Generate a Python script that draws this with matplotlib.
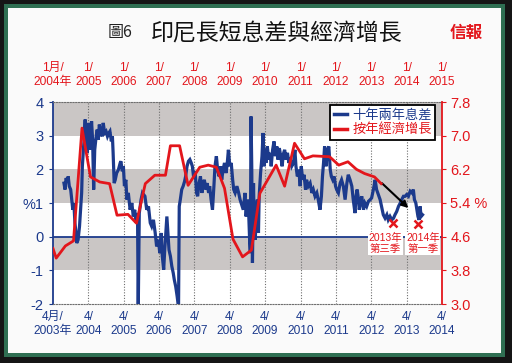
import matplotlib
matplotlib.use('Agg')
import matplotlib.pyplot as plt
from matplotlib import font_manager as fm
from matplotlib.patches import Rectangle
from matplotlib.lines import Line2D
import numpy as np

names = {f.name for f in fm.fontManager.ttflist}
NARROW = 'Liberation Sans Narrow' if 'Liberation Sans Narrow' in names else 'Liberation Sans'
TICKFS = 10 if NARROW == 'Liberation Sans Narrow' else 8.6
CJK = 'Noto Sans CJK TC'
NAVY = '#1c3a8c'
RED = '#e3161c'

# ---------------- data ----------------
# 10y-2y spread (%), dates on the bottom axis (decimal years)
spread_date = [
    2003.56, 2003.59, 2003.62, 2003.66, 2003.68, 2003.71, 2003.75, 2003.78, 2003.81, 2003.84,
    2003.87, 2003.90, 2003.92, 2003.96, 2004.00, 2004.03, 2004.06, 2004.08, 2004.11, 2004.14,
    2004.16, 2004.18, 2004.22, 2004.25, 2004.28, 2004.31, 2004.34, 2004.37, 2004.40, 2004.43,
    2004.47, 2004.50, 2004.53, 2004.56, 2004.60, 2004.64, 2004.67, 2004.71, 2004.75, 2004.79,
    2004.83, 2004.86, 2004.90, 2004.93, 2004.95, 2004.98, 2005.01, 2005.05, 2005.10, 2005.15,
    2005.17, 2005.21, 2005.24, 2005.27, 2005.31, 2005.34, 2005.38, 2005.43, 2005.48, 2005.52,
    2005.56, 2005.60, 2005.64, 2005.66, 2005.69, 2005.74, 2005.78,
    2005.85, 2005.90, 2005.95, 2006.00, 2006.04, 2006.09, 2006.14, 2006.18, 2006.23, 2006.27,
    2006.31, 2006.34, 2006.38, 2006.41, 2006.44, 2006.47, 2006.50, 2006.53, 2006.57, 2006.61,
    2006.65, 2006.68, 2006.72, 2006.76, 2006.80, 2006.82, 2006.85, 2006.89, 2006.93, 2006.97,
    2007.00, 2007.04, 2007.08, 2007.12, 2007.16, 2007.19, 2007.23, 2007.27, 2007.31, 2007.34,
    2007.38, 2007.42, 2007.46, 2007.50, 2007.53, 2007.57, 2007.61, 2007.65, 2007.68, 2007.72,
    2007.76, 2007.80, 2007.83, 2007.87, 2007.91, 2007.95, 2007.99, 2008.02, 2008.06, 2008.10,
    2008.14, 2008.17, 2008.21, 2008.25, 2008.29, 2008.33, 2008.36, 2008.40, 2008.45, 2008.50,
    2008.54,
    2008.63, 2008.68, 2008.71, 2008.75, 2008.78, 2008.81, 2008.83, 2008.85, 2008.87, 2008.89,
    2008.92, 2008.94, 2008.97, 2009.00, 2009.03, 2009.06, 2009.08, 2009.12, 2009.16, 2009.19,
    2009.22, 2009.25, 2009.27, 2009.31, 2009.35, 2009.39, 2009.42, 2009.46, 2009.50, 2009.54,
    2009.58, 2009.61, 2009.65, 2009.69, 2009.73, 2009.76, 2009.80, 2009.84, 2009.88, 2009.92,
    2009.95, 2010.00, 2010.05, 2010.09, 2010.12, 2010.16, 2010.20, 2010.24, 2010.27, 2010.31,
    2010.35, 2010.39, 2010.42, 2010.47, 2010.52, 2010.57, 2010.61, 2010.66, 2010.71, 2010.75,
    2010.80, 2010.84, 2010.87, 2010.90, 2010.93, 2010.97, 2011.01, 2011.05, 2011.09, 2011.12,
    2011.16, 2011.20, 2011.24,
    2011.27, 2011.32, 2011.37, 2011.41, 2011.46, 2011.51, 2011.56, 2011.60, 2011.65, 2011.70,
    2011.74, 2011.79, 2011.82, 2011.85, 2011.89, 2011.91, 2011.94, 2011.98, 2012.03, 2012.07,
    2012.12, 2012.17, 2012.22, 2012.26, 2012.31, 2012.36, 2012.40, 2012.45, 2012.50, 2012.55,
    2012.59, 2012.64, 2012.69, 2012.73, 2012.78, 2012.83, 2012.88, 2012.92, 2012.97, 2013.02,
    2013.07, 2013.11, 2013.16, 2013.21, 2013.25, 2013.30, 2013.35, 2013.40, 2013.44, 2013.47,
    2013.51, 2013.54, 2013.57, 2013.60, 2013.63, 2013.66, 2013.70,
]
spread_val = [
    1.59, 1.40, 1.74, 1.64, 1.79, 1.50, 1.40, 1.10, 0.80, 1.00,
    0.41, 0.11, -0.19, -0.09, 0.31, 0.80, 1.30, 2.09, 2.58, 3.08,
    3.48, 2.78, 2.49, 3.38, 2.88, 2.58, 3.43, 2.88, 1.40, 2.58,
    2.98, 3.18, 2.88, 3.33, 3.08, 2.98, 3.38, 3.08, 3.13, 2.98,
    3.08, 3.13, 2.83, 2.98, 2.49, 1.59, 1.69, 1.89, 1.99, 2.19,
    2.24, 1.94, 2.09, 1.50, 1.69, 1.10, 1.30, 0.80, 1.00, 0.60,
    0.80, 0.41, 0.70, -2.20, 0.70, 1.10, 1.30,
    1.20, 0.80, 0.90, 0.41, 0.31, 0.50, 0.11, -0.29, -0.09, -0.49,
    0.11, -0.58, -0.98, -0.39, 0.11, 0.60, 0.11, -0.39, -0.58, -0.88,
    -1.08, -1.28, -1.48, -1.77, -2.10, 0.90, 1.10, 1.40, 1.50, 1.64,
    1.79, 2.09, 2.24, 2.29, 2.19, 2.09, 1.74, 1.94, 1.30, 1.20,
    1.59, 1.79, 1.30, 1.59, 1.69, 1.40, 1.59, 1.30, 1.50, 1.10,
    0.80, 1.50, 2.09, 2.39, 1.94, 1.79, 2.09, 1.69, 1.99, 2.19,
    1.89, 2.09, 2.58, 2.09, 2.19, 1.69, 1.40, 1.30, 1.50, 1.30,
    1.10,
    0.80, 1.30, 0.60, 1.10, 0.80, -0.09, -0.49, 3.57, 2.09, -0.78,
    1.59, 0.31, -0.09, 0.80, 1.10, 0.11, 1.20, 1.89, 2.39, 3.08,
    2.09, 2.58, 2.19, 2.68, 2.29, 2.49, 2.09, 2.58, 2.83, 2.39,
    2.68, 2.29, 2.63, 2.39, 2.09, 2.44, 2.58, 2.29, 2.49, 2.19,
    2.34, 2.09, 2.19, 2.58, 2.09, 1.79, 1.99, 1.50, 2.09, 1.69,
    1.84, 1.40, 1.69, 1.50, 1.59, 1.30, 1.40, 1.20, 1.30, 1.10,
    0.80, 1.20, 1.79, 2.19, 2.68, 2.09, 2.58, 2.68, 1.99, 1.79,
    1.69, 1.79, 1.50,
    1.40, 1.30, 1.59, 1.69, 1.50, 1.10, 1.59, 1.84, 1.69, 1.50,
    1.10, 0.70, 1.20, 1.40, 1.10, 0.80, 1.00, 1.20, 0.80, 1.00,
    0.90, 1.05, 1.10, 1.15, 1.40, 1.69, 1.40, 1.25, 1.10, 0.85,
    0.65, 0.55, 0.65, 0.50, 0.60, 0.50, 0.55, 0.65, 0.75, 0.90,
    1.00, 1.10, 1.20, 1.20, 1.25, 1.20, 1.35, 1.30, 1.40, 1.10,
    1.00, 0.80, 0.60, 0.50, 0.90, 0.60, 0.65,
]

# GDP growth y/y (%), dates on the top axis (decimal years)
gdp_date = [2004.00, 2004.09, 2004.35, 2004.58, 2004.82, 2005.06, 2005.32, 2005.60, 2005.81, 2006.12,
            2006.36, 2006.61, 2006.88, 2007.18, 2007.32, 2007.58, 2007.82, 2008.15, 2008.39, 2008.62,
            2008.85, 2009.09, 2009.36, 2009.61, 2009.85, 2010.31, 2010.55, 2010.83, 2011.11, 2011.35,
            2011.82, 2012.08, 2012.34, 2012.58, 2012.81, 2013.09, 2013.28]
gdp_val = [4.32, 4.09, 4.38, 4.50, 7.18, 6.02, 5.90, 5.86, 5.11, 5.13,
           4.92, 5.86, 6.06, 6.06, 6.76, 6.76, 5.82, 6.25, 6.30, 6.25,
           5.75, 4.54, 4.12, 4.28, 5.63, 6.30, 5.80, 6.82, 6.45, 6.52,
           6.50, 6.30, 6.38, 6.20, 6.10, 6.02, 5.86]

LEAD = 0.75  # top axis = bottom axis + 9 months

mark_date = [2012.87, 2013.56]
mark_val = [0.42, 0.39]
label_date = [2012.64, 2013.71]
label_text = ['2013年\n第三季', '2014年\n第一季']
arrow_start = (2012.55, 1.59)
arrow_end = (2013.30, 0.85)

bottom_ticks = [2003.25 + i for i in range(12)]
bottom_labels = ['4月/\n2003年'] + [f'4/\n{y}' for y in range(2004, 2015)]
top_ticks = list(range(2004, 2016))
top_labels = ['1月/\n2004年'] + [f'1/\n{y}' for y in range(2005, 2016)]
left_ticks = [-2, -1, 0, 1, 2, 3, 4]
left_labels = ['-2', '-1', '0', '%1', '2', '3', '4']
right_ticks = [3.0, 3.8, 4.6, 5.4, 6.2, 7.0, 7.8]
right_labels = ['3.0', '3.8', '4.6', '5.4 %', '6.2', '7.0', '7.8']
legend_labels = ['十年兩年息差', '按年經濟增長']

# ---------------- figure ----------------
W, H = 512, 363
fig = plt.figure(figsize=(W / 100, H / 100), dpi=100)
fig.patch.set_facecolor('#151515')


def frect(x0, y0, x1, y1, color):
    fig.add_artist(Rectangle((x0 / W, 1 - y1 / H), (x1 - x0) / W, (y1 - y0) / H,
                             transform=fig.transFigure, color=color, zorder=-10, lw=0))


frect(4, 4, 505, 357, '#2f6f52')
frect(8, 8, 501, 353, '#fafafa')

ax = fig.add_axes([53 / W, 1 - 304 / H, 389 / W, 202 / H])
ax.set_facecolor('white')
ax.set_xlim(bottom_ticks[0], bottom_ticks[-1])
ax.set_ylim(-2, 4)

for lo in (3, 1, -1):
    ax.axhspan(lo, lo + 1, color='#cac6c5', lw=0, zorder=0)
for t in bottom_ticks[1:-1]:
    ax.axvline(t, color='#6e6e6e', ls=(0, (1, 1.5)), lw=0.8, zorder=1)
ax.axhline(0, color=NAVY, lw=1.3, zorder=2)

ax.plot(spread_date, spread_val, color=NAVY, lw=2.3, zorder=3, solid_joinstyle='miter')

ax.plot(mark_date, mark_val, 'x', color=RED, ms=6, mew=1.8, zorder=6)
for d, lab in zip(label_date, label_text):
    ax.text(d, 0.12, lab, ha='center', va='top', color=RED, fontsize=7.5,
            family=[NARROW, CJK], linespacing=1.15, zorder=6,
            bbox=dict(facecolor='white', edgecolor='none', pad=0.5))
ax.annotate('', xy=arrow_end, xytext=arrow_start,
            arrowprops=dict(arrowstyle='-|>', color='black', lw=1.5, mutation_scale=10,
                            shrinkA=0, shrinkB=0), zorder=6)

for s in ('top', 'bottom'):
    ax.spines[s].set_color('#6e6e6e')
    ax.spines[s].set_linestyle((0, (1, 1.5)))
    ax.spines[s].set_linewidth(0.8)
ax.spines['left'].set_color(NAVY)
ax.spines['left'].set_linewidth(1.3)
ax.spines['right'].set_visible(False)

ax.set_xticks(bottom_ticks)
ax.set_xticklabels(bottom_labels, color=NAVY, fontsize=TICKFS, family=[NARROW, CJK], linespacing=1.2)
ax.tick_params(axis='x', length=0, pad=5)
ax.set_yticks(left_ticks)
ax.set_yticklabels(left_labels, color=NAVY, fontsize=10.5, family='Liberation Sans')
ax.tick_params(axis='y', length=3, color=NAVY, pad=4)

ax2 = ax.twinx()
ax2.set_ylim(right_ticks[0], right_ticks[-1])
ax2.plot(np.array(gdp_date) - LEAD, gdp_val, color=RED, lw=2.0, zorder=4)
for s in ('top', 'bottom', 'left'):
    ax2.spines[s].set_visible(False)
ax2.spines['right'].set_color(RED)
ax2.spines['right'].set_linewidth(1.3)
ax2.set_yticks(right_ticks)
ax2.set_yticklabels(right_labels, color=RED, fontsize=10.5, family='Liberation Sans')
ax2.tick_params(axis='y', length=3, color=RED, pad=3)

sec = ax.secondary_xaxis('top', functions=(lambda x: x + LEAD, lambda x: x - LEAD))
sec.set_xticks(top_ticks)
sec.set_xticklabels(top_labels, color=RED, fontsize=TICKFS, family=[NARROW, CJK], linespacing=1.2)
sec.tick_params(axis='x', length=0, pad=10)
sec.spines['top'].set_visible(False)

handles = [Line2D([], [], color=NAVY, lw=2.5), Line2D([], [], color=RED, lw=2.5)]
leg = ax2.legend(handles, legend_labels, loc='upper right', bbox_to_anchor=(0.982, 0.985),
                 prop={'family': CJK, 'size': 9.5}, frameon=True, fancybox=False,
                 edgecolor='black', framealpha=1, handlelength=1.0, handletextpad=0.4,
                 borderpad=0.25, labelspacing=0.15, borderaxespad=0)
leg.get_frame().set_linewidth(1.3)
for txt, c in zip(leg.get_texts(), [NAVY, RED]):
    txt.set_color(c)

fig.text(120 / W, 1 - 33 / H, '圖6', fontsize=11.5, family=CJK, ha='center', va='center', color='#222222')
fig.text(277 / W, 1 - 33 / H, '印尼長短息差與經濟增長', fontsize=16.5, family=CJK,
         ha='center', va='center', color='#111111')
fig.text(466 / W, 1 - 33 / H, '信報', fontsize=12, family=CJK, weight='bold',
         ha='center', va='center', color=RED)

fig.savefig('out.png', dpi=100, facecolor=fig.get_facecolor())
